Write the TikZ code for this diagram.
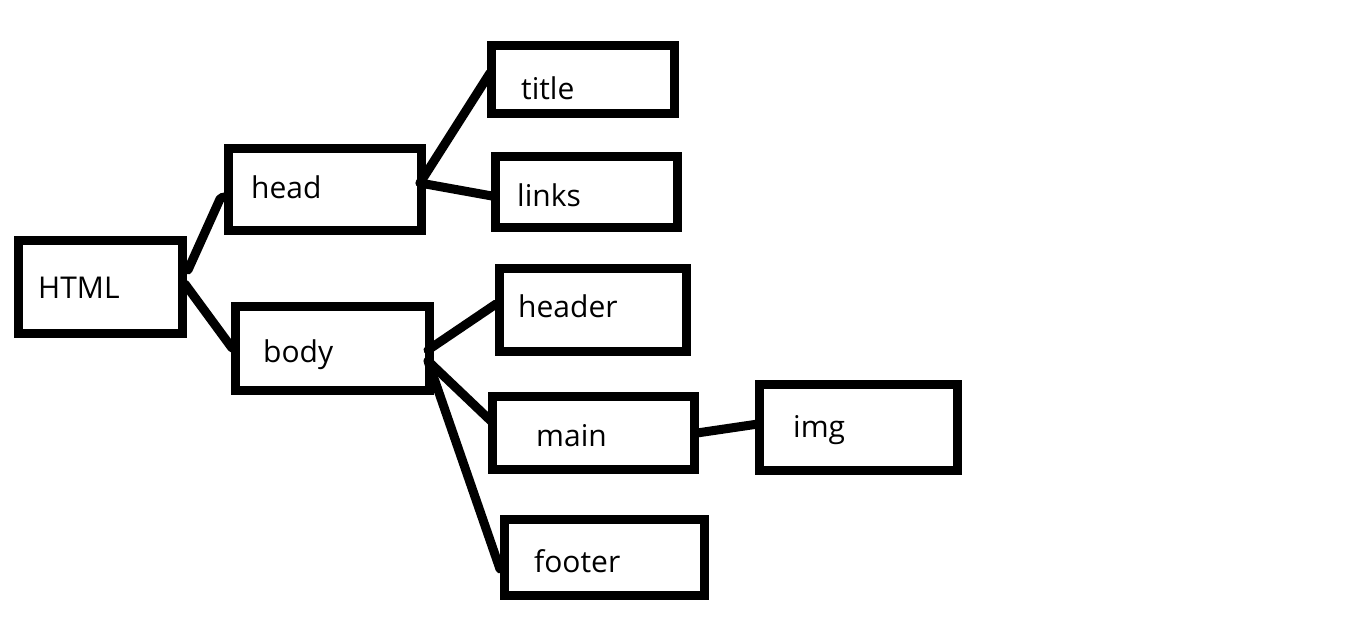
\documentclass[tikz,border=0pt]{standalone}
\usepackage{fontspec}
\setmainfont{Open Sans}
\begin{document}
\begin{tikzpicture}[x=1pt,y=-1pt,
  box/.style={draw=black, line width=9pt, inner sep=0pt, outer sep=0pt},
  lbl/.style={anchor=base west, inner sep=0pt, font=\fontsize{30}{36}\selectfont},
  conn/.style={line width=9pt, line cap=round, line join=round}]
\useasboundingbox (0,0) rectangle (1350,619);
% boxes
\node[box, minimum width=164pt, minimum height=93pt] (html) at (100,286.5) {};
\node[box, minimum width=193pt, minimum height=82pt] (head) at (325,189.5) {};
\node[box, minimum width=194pt, minimum height=84pt] (body) at (332.5,348.5) {};
\node[box, minimum width=183pt, minimum height=68pt] (title) at (583,79.5) {};
\node[box, minimum width=182pt, minimum height=71pt] (links) at (586.5,192) {};
\node[box, minimum width=187pt, minimum height=83pt] (header) at (593,310) {};
\node[box, minimum width=202pt, minimum height=73pt] (main) at (593.5,433) {};
\node[box, minimum width=198pt, minimum height=86pt] (img) at (858.5,427.5) {};
\node[box, minimum width=200pt, minimum height=76pt] (footer) at (604.5,557.5) {};
% labels
\node[lbl] (thtml) at (38,298) {HTML};
\node[lbl] (thead) at (251,198) {head};
\node[lbl] (tbody) at (263,362) {body};
\node[lbl] (ttitle) at (521,99) {title};
\node[lbl] (tlinks) at (517,206) {links};
\node[lbl] (theader) at (518,317) {header};
\node[lbl] (tmain) at (536,446) {main};
\node[lbl] (timg) at (793,437) {img};
\node[lbl] (tfooter) at (534,572) {footer};
% connector end points
\coordinate (hA) at (188,270);
\coordinate (hB) at (185,284);
\coordinate (headIn) at (220,199);
\coordinate (headIn2) at (223,197);
\coordinate (bodyIn) at (232,348);
\coordinate (headOut) at (420,183);
\coordinate (titleIn) at (490,73);
\coordinate (linksIn) at (492,196);
\coordinate (bodyOut1) at (428,350);
\coordinate (bodyOut2) at (428,361);
\coordinate (headerIn) at (496,304);
\coordinate (mainIn) at (491,421);
\coordinate (footerIn) at (500,569);
\coordinate (mainOut) at (697,433);
\coordinate (imgIn) at (758,424);
% connectors
\draw[conn] (hA) -- (headIn) -- (headIn2);
\draw[conn] (hB) -- (bodyIn);
\draw[conn] (headOut) -- (titleIn);
\draw[conn] (headOut) -- (linksIn);
\draw[conn] (bodyOut1) -- (headerIn);
\draw[conn] (bodyOut2) -- (mainIn);
\draw[conn] (bodyOut2) -- (footerIn);
\draw[conn] (mainOut) -- (imgIn);
\end{tikzpicture}
\end{document}
